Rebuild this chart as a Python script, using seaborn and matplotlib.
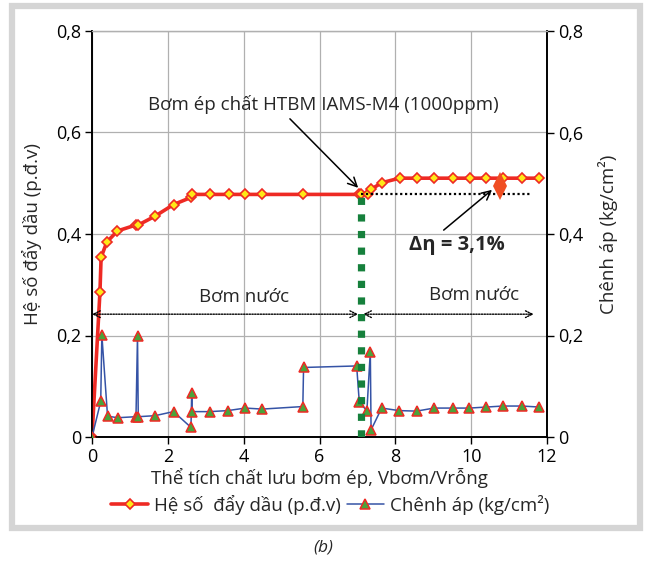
import matplotlib
matplotlib.use("Agg")
import matplotlib.pyplot as plt
import seaborn as sns
import pandas as pd
from matplotlib.ticker import FuncFormatter, MultipleLocator
from matplotlib.patches import Rectangle

# ---- data ----
x_eff = [0, 0.21, 0.24, 0.39, 0.67, 1.17, 1.2, 1.66, 2.15, 2.61, 2.63, 3.11, 3.6, 4.04,
         4.49, 5.56, 7.03, 7.1, 7.29, 7.36, 7.64, 8.11, 8.56, 9.03, 9.51, 9.96, 10.4,
         10.84, 11.35, 11.8]
y_eff = [0, 0.286, 0.354, 0.384, 0.406, 0.418, 0.417, 0.435, 0.458, 0.472, 0.478, 0.478,
         0.478, 0.478, 0.478, 0.478, 0.478, 0.478, 0.478, 0.488, 0.501, 0.510, 0.510,
         0.510, 0.510, 0.510, 0.510, 0.510, 0.510, 0.510]

x_dp = [0, 0.23, 0.26, 0.41, 0.68, 1.16, 1.2, 1.22, 1.66, 2.15, 2.61, 2.63, 2.64, 3.11,
        3.58, 4.04, 4.49, 5.56, 5.58, 6.98, 7.05, 7.25, 7.34, 7.36, 7.64, 8.1, 8.56, 9.02,
        9.51, 9.95, 10.4, 10.83, 11.34, 11.8]
y_dp = [0, 0.070, 0.201, 0.041, 0.038, 0.040, 0.199, 0.040, 0.042, 0.050, 0.019, 0.087,
        0.050, 0.050, 0.052, 0.057, 0.055, 0.060, 0.137, 0.140, 0.068, 0.052, 0.168,
        0.014, 0.057, 0.052, 0.051, 0.057, 0.057, 0.057, 0.059, 0.061, 0.061, 0.059]

injection_x = 7.1
eff_before = 0.478
eff_after = 0.510
arrow_x = 10.77

label_eff = "Hệ số  đẩy dầu (p.đ.v)"
label_dp = "Chênh áp (kg/cm²)"
xlabel = "Thể tích chất lưu bơm ép, Vbơm/Vrỗng"
ylabel_left = "Hệ số đẩy dầu (p.đ.v)"
ylabel_right = "Chênh áp (kg/cm²)"
inj_text = "Bơm ép chất HTBM IAMS-M4 (1000ppm)"
delta_text = "Δη = 3,1%"
water_text = "Bơm nước"
caption = "(b)"

# ---- style ----
sns.set_theme(style="white")
plt.rcParams['font.family'] = ['Open Sans', 'DejaVu Sans']

RED = "#ee2a24"
YEL = "#ffe817"
BLUE = "#3553a6"
GREEN_TRI = "#4aa33a"
GREEN = "#16803c"
GRID = "#b0b0b0"
ORANGE = "#f04e23"
FS = 13.5

fig = plt.figure(figsize=(6.46, 5.61), dpi=100)
fig.patch.set_facecolor("white")
ax = fig.add_axes([92/646, 1-437/561, 455/646, 406/561])
ax2 = ax.twinx()

df_eff = pd.DataFrame({"x": x_eff, "y": y_eff})
df_dp = pd.DataFrame({"x": x_dp, "y": y_dp})

sns.lineplot(data=df_eff, x="x", y="y", ax=ax, sort=False, estimator=None,
             color=RED, lw=2.6, marker="D", markersize=4.6,
             markerfacecolor=YEL, markeredgecolor=RED, markeredgewidth=1.2,
             label=label_eff, zorder=4)
sns.lineplot(data=df_dp, x="x", y="y", ax=ax2, sort=False, estimator=None,
             color=BLUE, lw=1.1, marker="^", markersize=7,
             markerfacecolor=GREEN_TRI, markeredgecolor=RED, markeredgewidth=1.1,
             label=label_dp, zorder=3)

for a in (ax, ax2):
    a.set_xlim(0, 12)
    a.set_ylim(0, 0.8)
    a.yaxis.set_major_locator(MultipleLocator(0.2))

fmt = FuncFormatter(lambda v, p: "0" if abs(v) < 1e-9 else f"{v:.1f}".replace(".", ","))
ax.yaxis.set_major_formatter(fmt)
ax2.yaxis.set_major_formatter(fmt)
ax.xaxis.set_major_locator(MultipleLocator(2))

ax.grid(True, color=GRID, lw=0.9)
ax2.grid(False)
ax.set_axisbelow(True)

for a in (ax, ax2):
    for s in ("left", "right", "bottom"):
        a.spines[s].set_color("black")
        a.spines[s].set_linewidth(1.2)
    a.spines["top"].set_color(GRID)
    a.spines["top"].set_linewidth(0.9)

ax.tick_params(axis="both", direction="out", length=5, width=1, colors="black",
               labelsize=13, left=True, bottom=True, pad=3)
ax2.tick_params(axis="y", direction="out", length=5, width=1, colors="black",
                labelsize=13, right=True, pad=3)

ax.set_xlabel(xlabel, fontsize=FS, va="center")
ax.xaxis.set_label_coords(0.5, -0.1)
ax.set_ylabel(ylabel_left, fontsize=FS, va="center")
ax.yaxis.set_label_coords(-0.132, 0.5)
ax2.set_ylabel(ylabel_right, fontsize=FS, rotation=90, va="center")
ax2.yaxis.set_label_coords(1.134, 0.5)

# green injection line
ax2.plot([injection_x, injection_x], [0, eff_before], color=GREEN, lw=5.2,
         linestyle=(0, (1, 1.3)), solid_capstyle="butt", dash_capstyle="butt", zorder=6)

# dotted reference line
ax2.plot([injection_x, 11.6], [eff_before, eff_before], color="black", lw=1.6,
         linestyle=(0, (1, 1.2)), zorder=5)

# red double arrow (bar + two heads)
ax2.plot([arrow_x, arrow_x], [eff_before + 0.006, eff_after - 0.006], color=ORANGE,
         lw=6, solid_capstyle="butt", zorder=7)
ax2.plot([arrow_x], [eff_after - 0.002], marker="^", markersize=10.5, color=ORANGE,
         markeredgewidth=0, zorder=7)
ax2.plot([arrow_x], [eff_before + 0.002], marker="v", markersize=10.5, color=ORANGE,
         markeredgewidth=0, zorder=7)

# annotations
ax2.annotate(inj_text, xy=(7.02, 0.491), xytext=(6.1, 0.656), fontsize=FS,
             ha="center", va="center",
             arrowprops=dict(arrowstyle="->", color="black", lw=1.1,
                             mutation_scale=16, relpos=(0.39, 0.0),
                             shrinkA=2, shrinkB=0), zorder=8)
ax2.annotate(delta_text, xy=(10.55, 0.487), xytext=(9.62, 0.378), fontsize=14.5,
             fontweight="bold", ha="center", va="center",
             arrowprops=dict(arrowstyle="->", color="black", lw=1.1,
                             mutation_scale=16, relpos=(0.3, 1.0),
                             shrinkA=2, shrinkB=0), zorder=8)

ax2.text(4.0, 0.276, water_text, fontsize=FS, ha="center", va="center")
ax2.text(10.08, 0.28, water_text, fontsize=FS, ha="center", va="center")
for x0, x1 in ((0.0, 7.02), (7.15, 11.65)):
    ax2.annotate("", xy=(x1, 0.242), xytext=(x0, 0.242),
                 arrowprops=dict(arrowstyle="<->", color="black", lw=1.0,
                                 linestyle=(0, (1, 1)), mutation_scale=12,
                                 shrinkA=0, shrinkB=0))

# legend
h1, l1 = ax.get_legend_handles_labels()
h2, l2 = ax2.get_legend_handles_labels()
for a in (ax, ax2):
    if a.get_legend() is not None:
        a.get_legend().remove()
fig.legend(h1 + h2, l1 + l2, loc="center", bbox_to_anchor=(330/646, 1-505/561),
           ncol=2, frameon=False, fontsize=FS, handlelength=2.0, handletextpad=0.3,
           columnspacing=0.3, borderpad=0)

# grey frame
fig.patches.append(Rectangle((12/646, 1-528/561), 628/646, 522/561,
                             transform=fig.transFigure, fill=False,
                             edgecolor="#d5d5d5", lw=4.5, zorder=0))

fig.text(0.5, 1-548/561, caption, fontsize=12.5, style="italic", ha="center", va="center")

fig.savefig("out.png", dpi=100)
